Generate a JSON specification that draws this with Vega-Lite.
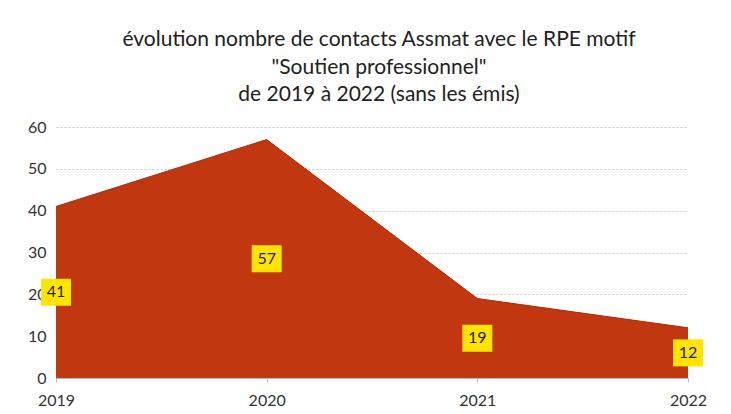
{
  "$schema": "https://vega.github.io/schema/vega-lite/v6.json",
  "autosize": {"type": "none"},
  "width": 632,
  "height": 251,
  "padding": {"left": 56, "top": 127, "right": 43, "bottom": 36},
  "background": "white",
  "config": {
    "font": "Lato",
    "view": {"stroke": null}
  },
  "title": {
    "text": ["évolution nombre de contacts Assmat avec le RPE motif", "\"Soutien professionnel\"", "de 2019 à 2022 (sans les émis)"],
    "fontSize": 21,
    "fontWeight": "normal",
    "font": "Lato",
    "color": "#222222",
    "lineHeight": 27.5,
    "anchor": "middle",
    "frame": "group",
    "dx": 7,
    "offset": 14
  },
  "data": {
    "values": [
      {"year": "2019", "contacts": 41},
      {"year": "2020", "contacts": 57},
      {"year": "2021", "contacts": 19},
      {"year": "2022", "contacts": 12}
    ]
  },
  "encoding": {
    "x": {
      "field": "year",
      "type": "ordinal",
      "scale": {"type": "point", "padding": 0},
      "axis": {
        "title": null,
        "labelAngle": 0,
        "labelFontSize": 16,
        "labelColor": "#333333",
        "labelPadding": 10,
        "domainColor": "#bbbbbb",
        "tickColor": "#bbbbbb",
        "tickSize": 4,
        "grid": false
      }
    }
  },
  "layer": [
    {
      "mark": {"type": "area", "color": "#C1370F", "opacity": 1, "fillOpacity": 1, "line": {"color": "#A82C0A", "strokeWidth": 1}},
      "encoding": {
        "y": {
          "field": "contacts",
          "type": "quantitative",
          "scale": {"domain": [0, 60]},
          "axis": {
            "title": null,
            "values": [0, 10, 20, 30, 40, 50, 60],
            "labelOverlap": false,
            "labelFontSize": 16,
            "labelColor": "#333333",
            "labelPadding": 10,
            "domain": false,
            "ticks": false,
            "grid": true,
            "gridColor": "#c8c8c8",
            "gridDash": [2, 2]
          }
        }
      }
    },
    {
      "mark": {"type": "point", "shape": "M -1 -0.9 H 1 V 0.9 H -1 Z", "filled": true, "color": "#FFE400", "opacity": 1, "size": 900},
      "encoding": {
        "y": {"field": "contacts", "type": "quantitative", "scale": {"domain": [0, 120]}, "axis": null}
      }
    },
    {
      "mark": {"type": "text", "fontSize": 16, "color": "#222222", "baseline": "middle", "align": "center"},
      "encoding": {
        "y": {"field": "contacts", "type": "quantitative", "scale": {"domain": [0, 120]}, "axis": null},
        "text": {"field": "contacts", "type": "quantitative"}
      }
    }
  ],
  "resolve": {"scale": {"y": "independent"}}
}
